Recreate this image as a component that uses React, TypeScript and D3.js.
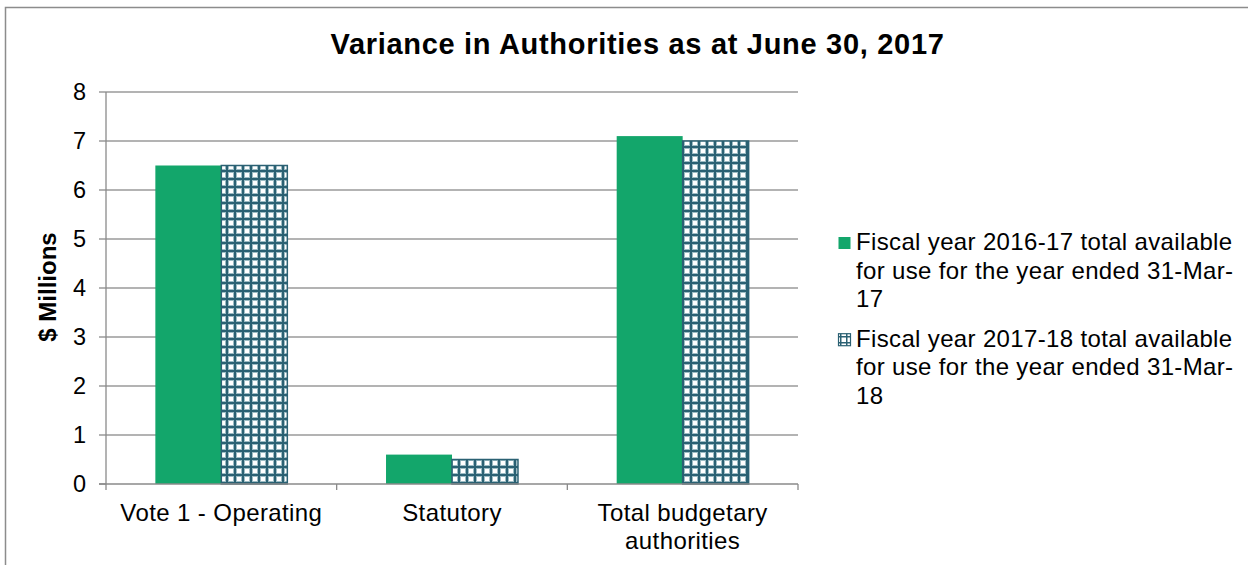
import React from "react";
import * as d3 from "d3";

const categories = ["Vote 1 - Operating", "Statutory", "Total budgetary authorities"];
const categoryLines = [["Vote 1 - Operating"], ["Statutory"], ["Total budgetary", "authorities"]];
const seriesNames = [
  "Fiscal year 2016-17 total available for use for the year ended 31-Mar-17",
  "Fiscal year 2017-18 total available for use for the year ended 31-Mar-18",
];
const legendLines = [
  ["Fiscal year 2016-17 total available", "for use for the year ended 31-Mar-", "17"],
  ["Fiscal year 2017-18 total available", "for use for the year ended 31-Mar-", "18"],
];
const values2016 = [6.5, 0.6, 7.1];
const values2017 = [6.5, 0.5, 7.0];
const yTicks = [0, 1, 2, 3, 4, 5, 6, 7, 8];
const title = "Variance in Authorities as at June 30, 2017";
const yTitle = "$ Millions";

const W = 1248;
const H = 565;
const plot = { left: 106, right: 798, top: 92, bottom: 484 };
const FONT = "Liberation Sans, Arial, sans-serif";
const GREEN = "#13a66b";
const TEAL = "#2b6173";

export default function App() {
  const x = d3.scaleBand<string>().domain(categories).range([plot.left, plot.right]).paddingInner(0).paddingOuter(0);
  const xs = d3.scaleBand<string>().domain(seriesNames).range([0, x.bandwidth()]).paddingInner(0).paddingOuter(0.748);
  const y = d3.scaleLinear().domain([0, 8]).range([plot.bottom, plot.top]);
  const seriesValues = [values2016, values2017];
  const fills = [GREEN, "url(#hatch)"];

  return (
    <svg width={W} height={H} style={{ position: "absolute", left: 0, top: 0, background: "#fff" }}>
      <defs>
        <pattern id="hatch" width={8} height={8} patternUnits="userSpaceOnUse" x={1} y={1}>
          <rect width={8} height={8} fill="#ffffff" />
          <rect x={0} y={0} width={4} height={8} fill="#9dbcc4" />
          <rect x={0} y={0} width={8} height={4} fill="#9dbcc4" />
          <rect x={1} y={0} width={2} height={8} fill={TEAL} />
          <rect x={0} y={1} width={8} height={2} fill={TEAL} />
        </pattern>
        <pattern id="hatchLegend" width={6} height={6} patternUnits="userSpaceOnUse" x={0} y={0}>
          <rect width={6} height={6} fill="#ffffff" />
          <rect x={0} y={0} width={1.5} height={6} fill={TEAL} />
          <rect x={0} y={0} width={6} height={1.5} fill={TEAL} />
        </pattern>
      </defs>
      <rect x={5.5} y={7.5} width={W + 20} height={H + 20} fill="none" stroke="#8c8c8c" strokeWidth={1.5} />

      <text x={637.5} y={54} textAnchor="middle" fontFamily={FONT} fontWeight="bold" fontSize={29} letterSpacing={0.7} fill="#000">
        {title}
      </text>

      {yTicks.map((t) => (
        <g key={t}>
          {t > 0 && (
            <line x1={plot.left} x2={plot.right} y1={y(t)} y2={y(t)} stroke="#9a9a9a" strokeWidth={1.3} />
          )}
          <line x1={plot.left - 7} x2={plot.left} y1={y(t)} y2={y(t)} stroke="#8a8a8a" strokeWidth={1.3} />
          <text x={86} y={y(t)} dy="0.35em" textAnchor="end" fontFamily={FONT} fontSize={23.5} fill="#000">
            {t}
          </text>
        </g>
      ))}

      {categories.map((c, ci) =>
        seriesNames.map((s, si) => {
          const v = seriesValues[si][ci];
          const bx = (x(c) as number) + (xs(s) as number);
          return (
            <rect
              key={c + s}
              x={bx}
              y={y(v)}
              width={xs.bandwidth()}
              height={y(0) - y(v)}
              fill={fills[si]}
              stroke={si === 1 ? TEAL : "none"}
              strokeWidth={si === 1 ? 1.5 : 0}
            />
          );
        })
      )}

      <line x1={plot.left} x2={plot.left} y1={plot.top} y2={plot.bottom + 6} stroke="#8a8a8a" strokeWidth={1.3} />
      <line x1={plot.left - 7} x2={plot.right} y1={plot.bottom} y2={plot.bottom} stroke="#8a8a8a" strokeWidth={1.5} />
      {categories.map((c, i) => (
        <line
          key={"ct" + i}
          x1={(x(c) as number) + x.bandwidth()}
          x2={(x(c) as number) + x.bandwidth()}
          y1={plot.bottom}
          y2={plot.bottom + 6}
          stroke="#8a8a8a"
          strokeWidth={1.3}
        />
      ))}

      {categories.map((c, i) => (
        <text key={"cl" + i} textAnchor="middle" fontFamily={FONT} fontSize={24} letterSpacing={0.4} fill="#000">
          {categoryLines[i].map((ln, li) => (
            <tspan key={li} x={(x(c) as number) + x.bandwidth() / 2} y={521 + li * 28}>
              {ln}
            </tspan>
          ))}
        </text>
      ))}

      <text
        transform={`translate(56, 287) rotate(-90)`}
        textAnchor="middle"
        fontFamily={FONT}
        fontWeight="bold"
        fontSize={24}
        fill="#000"
      >
        {yTitle}
      </text>

      {seriesNames.map((s, si) => {
        const top = 250 + si * 96.7;
        return (
          <g key={"lg" + si}>
            <rect
              x={838.5}
              y={top - 13}
              width={12}
              height={12}
              fill={si === 0 ? GREEN : "url(#hatchLegend)"}
              stroke={si === 1 ? TEAL : "none"}
              strokeWidth={si === 1 ? 1.2 : 0}
            />
            <text fontFamily={FONT} fontSize={24} letterSpacing={0.35} fill="#000">
              {legendLines[si].map((ln, li) => (
                <tspan key={li} x={856} y={top + li * 28.5}>
                  {ln}
                </tspan>
              ))}
            </text>
          </g>
        );
      })}
    </svg>
  );
}
